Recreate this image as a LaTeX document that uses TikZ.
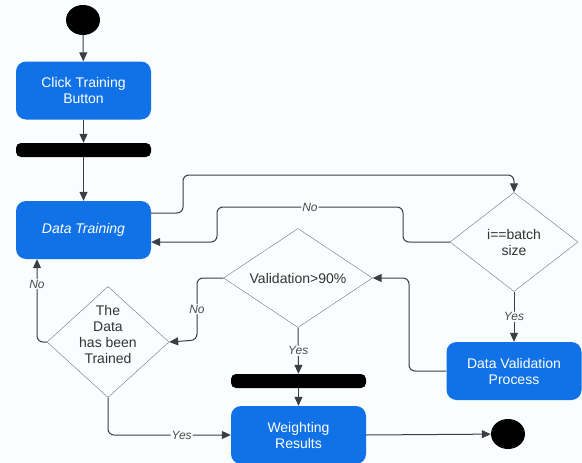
\documentclass[tikz,border=0pt]{standalone}
\usepackage{fontspec}
\setmainfont{Liberation Sans}
\usepackage{tikz}
\usetikzlibrary{shapes,arrows.meta}
\definecolor{actblue}{RGB}{16,114,230}
\definecolor{linegray}{RGB}{58,62,68}
\definecolor{paper}{RGB}{250,253,254}

\begin{document}
\begin{tikzpicture}[x=1pt,y=-1pt,
  act/.style={rectangle,rounded corners=10pt,fill=actblue,text=white,
    minimum width=135pt,minimum height=58pt,align=center,
    font=\fontsize{14}{16}\selectfont},
  dec/.style={diamond,draw=black!55,fill=paper,inner sep=0pt,align=center,
    text=black!80,font=\fontsize{14}{16}\selectfont},
  bar/.style={rectangle,rounded corners=5pt,fill=black,
    minimum width=135pt,minimum height=14pt},
  dot/.style={ellipse,fill=black,minimum width=34pt,minimum height=30pt},
  flow/.style={draw=linegray,line width=1pt,rounded corners=6pt,
    -{Triangle[length=9pt,width=8pt]}},
  lbl/.style={fill=paper,inner sep=1pt,text=black!70,
    font=\fontsize{12}{12}\selectfont\itshape}]
\fill[paper] (0,0) rectangle (582,463);
\useasboundingbox (0,0) rectangle (582,463);

\node[dot] (start) at (83,20) {};
\node[act] (click) at (83.5,90.5) {Click Training\\Button};
\node[bar] (bar1) at (83.5,150) {};
\node[act] (train) at (83.5,230) {\itshape Data Training};
\node[dec,minimum width=128pt,minimum height=99pt,aspect=1.3] (batch) at (514,242) {i==batch\\size};
\node[dec,minimum width=149pt,minimum height=99pt,aspect=1.5] (valid) at (298,278) {Validation>90\%};
\node[act] (dvp) at (514,371) {Data Validation\\Process};
\node[dec,minimum width=122pt,minimum height=111pt,aspect=1.1,inner sep=-6pt] (trained) at (108,342) {The\\Data\\has been\\Trained\\\mbox{}};
\node[bar] (bar2) at (298.5,381) {};
\node[act] (weight) at (298.5,435) {Weighting\\Results};
\node[dot] (stop) at (508,434) {};

\draw[flow] (start) -- (click);
\draw[flow] (click) -- (bar1);
\draw[flow] (bar1) -- (train);
\draw[flow] ([yshift=17pt]train.east) -| (183,175) -| (batch.north);
\draw[flow] (batch.west) -| (403,207) -- node[lbl] {No} (217,207) -- (217,242) -- ([yshift=-12pt]train.east);
\draw[flow] (batch.south) -- node[lbl] {Yes} (dvp.north);
\draw[flow] (dvp.west) -| (409,278) -- (valid.east);
\draw[flow] (valid.west) -| node[lbl,pos=0.75] {No} (197,340) -- (trained.east);
\draw[flow] (trained.west) -| node[lbl,pos=0.85] {No} ([xshift=-46.5pt]train.south);
\draw[flow] (trained.south) |- node[lbl,pos=0.8] {Yes} (weight.west);
\draw[flow] (valid.south) -- node[lbl] {Yes} (bar2.north);
\draw[flow] (bar2) -- (weight);
\draw[flow] (weight.east) -- (stop);
\end{tikzpicture}
\end{document}
